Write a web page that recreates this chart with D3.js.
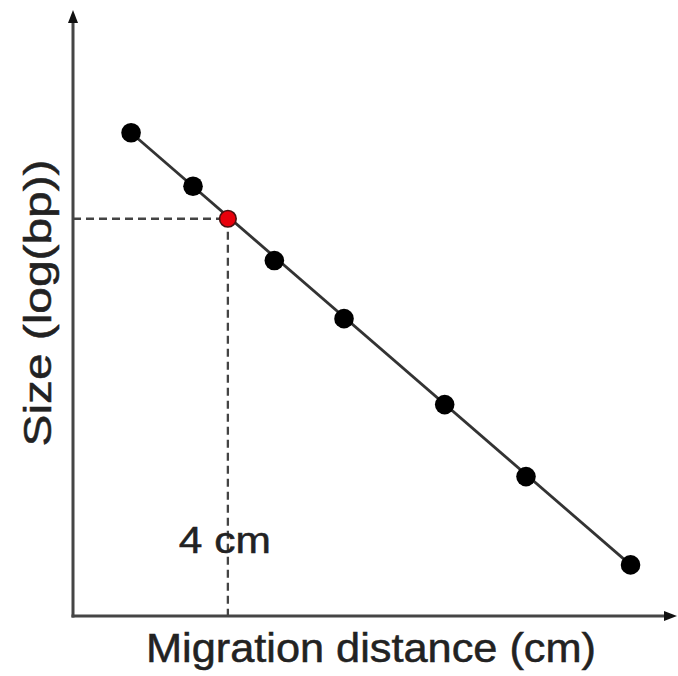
<!DOCTYPE html>
<html>
<head>
<meta charset="utf-8">
<script src="https://cdn.jsdelivr.net/npm/d3@7"></script>
<style>
  body { margin: 0; background: #fff; }
  text { font-family: "Liberation Sans", Arial, sans-serif; fill: #222; stroke: #222; stroke-width: 0.5; }
</style>
</head>
<body>
<div id="chart"></div>
<script>
// migration distance (cm) and size (log bp) of the ladder bands
const distances = [1.5, 3.1, 5.2, 7.0, 9.6, 11.7, 14.4]
const sizes = [4.08, 3.85, 3.53, 3.28, 2.91, 2.60, 2.22]
// unknown sample band
const sampleDistance = [4.0]
const sampleSize = [3.71]
const sampleLabel = "4 cm"

const width = 678
const height = 676

const svg = d3.select("#chart")
  .append("svg")
  .attr("width", width)
  .attr("height", height)

const x = d3.scaleLinear().domain([0, 15.6]).range([73, 677])
const y = d3.scaleLinear().domain([2, 4.6]).range([616, 12])

const ladder = distances.map((d, i) => ({x: d, y: sizes[i]}))
const sample = sampleDistance.map((d, i) => ({x: d, y: sampleSize[i]}))

// dashed guides to the sample band
svg.append("g")
  .attr("stroke", "#444")
  .attr("stroke-width", 2.3)
  .attr("stroke-dasharray", "8,5")
  .selectAll("g")
  .data(sample)
  .join(g => {
    const grp = g.append("g")
    grp.append("line")
      .attr("x1", x(0)).attr("x2", d => x(d.x))
      .attr("y1", d => y(d.y)).attr("y2", d => y(d.y))
    grp.append("line")
      .attr("x1", d => x(d.x)).attr("x2", d => x(d.x))
      .attr("y1", d => y(d.y)).attr("y2", y(2))
    return grp
  })

// axes with arrow heads
const axisColor = "#454545"
svg.append("line")
  .attr("x1", x(0)).attr("x2", x(0))
  .attr("y1", y(2) + 1.5).attr("y2", 20)
  .attr("stroke", axisColor).attr("stroke-width", 3)
svg.append("line")
  .attr("x1", x(0) - 1.5).attr("x2", 668)
  .attr("y1", y(2)).attr("y2", y(2))
  .attr("stroke", axisColor).attr("stroke-width", 3)
svg.append("path")
  .attr("d", `M${x(0)},10 L${x(0) - 5},23 L${x(0) + 5},23 Z`)
  .attr("fill", "#111")
svg.append("path")
  .attr("d", `M677,${y(2)} L664,${y(2) - 5} L664,${y(2) + 5} Z`)
  .attr("fill", "#111")

// calibration line through the ladder
const line = d3.line().x(d => x(d.x)).y(d => y(d.y))
svg.append("path")
  .datum([ladder[0], ladder[ladder.length - 1]])
  .attr("d", line)
  .attr("fill", "none")
  .attr("stroke", "#333")
  .attr("stroke-width", 2.8)

svg.append("g")
  .selectAll("circle")
  .data(ladder)
  .join("circle")
  .attr("cx", d => x(d.x))
  .attr("cy", d => y(d.y))
  .attr("r", 9.8)
  .attr("fill", "#000")

svg.append("g")
  .selectAll("circle")
  .data(sample)
  .join("circle")
  .attr("cx", d => x(d.x))
  .attr("cy", d => y(d.y))
  .attr("r", 8.3)
  .attr("fill", "#e8000b")
  .attr("stroke", "#4a1010")
  .attr("stroke-width", 1.6)

// labels
svg.append("text")
  .attr("x", x(sampleDistance[0]) - 3)
  .attr("y", 553)
  .attr("text-anchor", "middle")
  .attr("font-size", 36)
  .attr("textLength", 92)
  .attr("lengthAdjust", "spacingAndGlyphs")
  .text(sampleLabel)

svg.append("text")
  .attr("x", 371)
  .attr("y", 662)
  .attr("text-anchor", "middle")
  .attr("font-size", 40)
  .attr("textLength", 450)
  .attr("lengthAdjust", "spacingAndGlyphs")
  .text("Migration distance (cm)")

svg.append("text")
  .attr("transform", "translate(51,303) rotate(-90)")
  .attr("text-anchor", "middle")
  .attr("font-size", 38)
  .attr("textLength", 287)
  .attr("lengthAdjust", "spacingAndGlyphs")
  .text("Size (log(bp))")
</script>
</body>
</html>
